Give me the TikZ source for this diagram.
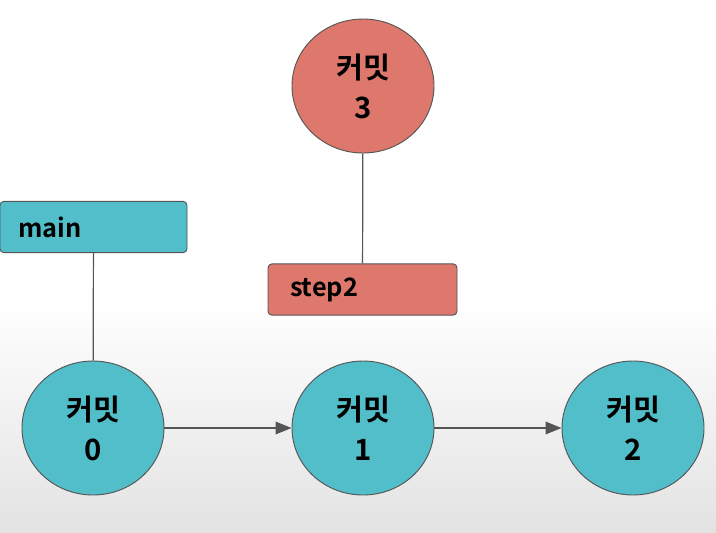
\documentclass[tikz,border=0pt]{standalone}
\usepackage{fontspec}
\setmainfont{Noto Sans CJK KR}[BoldFont={Noto Sans CJK KR Bold}]
\usetikzlibrary{arrows.meta,shapes.geometric}

\definecolor{tealfill}{RGB}{82,190,201}
\definecolor{redfill}{RGB}{222,120,108}
\definecolor{edgegray}{RGB}{85,85,85}

\begin{document}
\begin{tikzpicture}[x=0.75pt,y=-0.75pt,
    commit/.style={ellipse,draw=edgegray,line width=0.7pt,minimum width=106.5pt,minimum height=100.5pt,inner sep=0pt,align=center,font=\fontsize{22}{30}\selectfont\bfseries},
    branch/.style={rectangle,rounded corners=3pt,draw=edgegray,line width=0.7pt,minimum height=38.5pt,align=left,font=\fontsize{19}{22}\selectfont\bfseries},
    link/.style={draw=edgegray,line width=0.9pt}]
  \useasboundingbox (0,0) rectangle (716,532);
  \fill[white] (0,0) rectangle (716,300);
  \shade[top color=white,bottom color=black!11] (0,300) rectangle (716,532);

  \node[commit,fill=tealfill] (c0) at (93,428) {커밋\\0};
  \node[commit,fill=tealfill] (c1) at (363,428) {커밋\\1};
  \node[commit,fill=tealfill] (c2) at (633,428) {커밋\\2};
  \node[commit,fill=redfill] (c3) at (363,86) {커밋\\3};

  \node[branch,fill=tealfill,inner xsep=13.5pt,text width=113.25pt] (main) at (93.5,227) {main};
  \node[branch,fill=redfill,inner xsep=16.5pt,text width=108.75pt] (step2) at (362.5,289.5) {step2};

  \draw[link] (main) -- (c0);
  \draw[link] (step2) -- (c3);
  \draw[link,-{Triangle[length=12pt,width=9.5pt]}] (c0) -- (c1);
  \draw[link,-{Triangle[length=12pt,width=9.5pt]}] (c1) -- (c2);
\end{tikzpicture}
\end{document}
